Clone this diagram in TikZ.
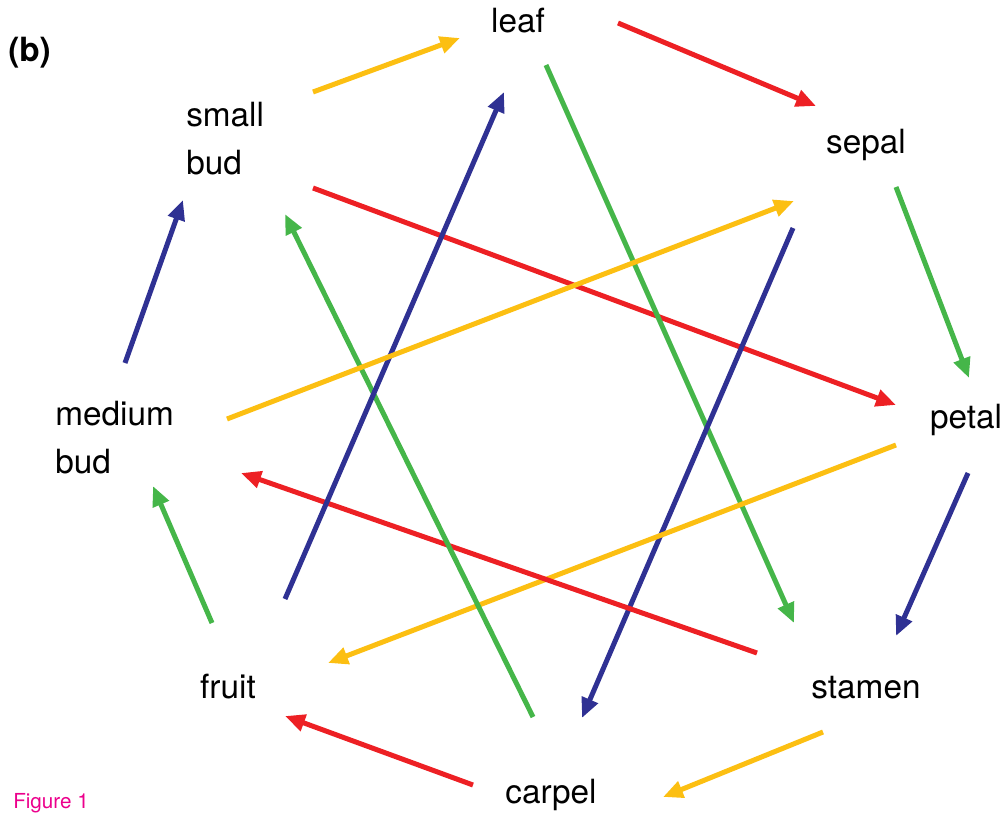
\documentclass[tikz,border=0pt]{standalone}
\usepackage{fontspec}
\setmainfont{TeX Gyre Heros}
\usetikzlibrary{arrows.meta}
\definecolor{arrred}{HTML}{ED2024}
\definecolor{arryel}{HTML}{FCBF12}
\definecolor{arrgrn}{HTML}{45B649}
\definecolor{arrblu}{HTML}{2F3193}

\begin{document}
\begin{tikzpicture}[x=0.75pt,y=-0.75pt,
    organ/.style={inner sep=0pt,font=\fontsize{25}{36}\selectfont,align=left},
    link/.style={line width=3.75pt,-{Triangle[length=15pt,width=12.5pt]}}]
    \useasboundingbox (0,0) rectangle (1002,813);
    % stadier rundt i ringen
    \node[organ,anchor=base] (leaf) at (518,33) {leaf};
    \node[organ,anchor=base] (sepal) at (866,153) {sepal};
    \node[organ,anchor=base] (petal) at (966,428) {petal};
    \node[organ,anchor=base] (stamen) at (866,698) {stamen};
    \node[organ,anchor=base] (carpel) at (551,803) {carpel};
    \node[organ,anchor=base] (fruit) at (228,698) {fruit};
    \node[organ,anchor=base west] (medbud) at (55,473) {medium\\bud};
    \node[organ,anchor=base west] (smallbud) at (186,175) {small\\bud};
    \node[organ,anchor=base west,font=\fontsize{25}{30}\selectfont\bfseries] (panel) at (8,62) {(b)};
    \node[inner sep=0pt,anchor=base west,text=magenta,font=\fontsize{15.5}{18}\selectfont] (figlabel) at (13,808) {Figure 1};
    % naboer i ringen
    \draw[link,arryel] ([shift={(127,-83)}]smallbud.base west) -- ([shift={(-58,5)}]leaf.base);
    \draw[link,arrred] ([shift={(100,-10)}]leaf.base) -- ([shift={(-50,-47)}]sepal.base);
    \draw[link,arrgrn] ([shift={(30,34)}]sepal.base) -- ([shift={(3,-50)}]petal.base);
    \draw[link,arrblu] ([shift={(2,45)}]petal.base) -- ([shift={(30,-62)}]stamen.base);
    \draw[link,arryel] ([shift={(-43,34)}]stamen.base) -- ([shift={(112,-6)}]carpel.base);
    \draw[link,arrred] ([shift={(-78,-18)}]carpel.base) -- ([shift={(57,18)}]fruit.base);
    \draw[link,arrgrn] ([shift={(-16,-75)}]fruit.base) -- ([shift={(98,13)}]medbud.base west);
    \draw[link,arrblu] ([shift={(70,-110)}]medbud.base west) -- ([shift={(-3,25)}]smallbud.base west);
    % spring over et stadium
    \draw[link,arrred] ([shift={(127,13)}]smallbud.base west) -- ([shift={(-70,-23)}]petal.base);
    \draw[link,arrgrn] ([shift={(28,32)}]leaf.base) -- ([shift={(-72,-75)}]stamen.base);
    \draw[link,arrblu] ([shift={(-73,75)}]sepal.base) -- ([shift={(31,-85)}]carpel.base);
    \draw[link,arryel] ([shift={(-70,17)}]petal.base) -- ([shift={(100,-35)}]fruit.base);
    \draw[link,arrred] ([shift={(-109,-45)}]stamen.base) -- ([shift={(186,0)}]medbud.base west);
    \draw[link,arrgrn] ([shift={(-18,-86)}]carpel.base) -- ([shift={(99,39)}]smallbud.base west);
    \draw[link,arrblu] ([shift={(57,-99)}]fruit.base) -- ([shift={(-14,59)}]leaf.base);
    \draw[link,arryel] ([shift={(172,-54)}]medbud.base west) -- ([shift={(-72,48)}]sepal.base);
\end{tikzpicture}
\end{document}
